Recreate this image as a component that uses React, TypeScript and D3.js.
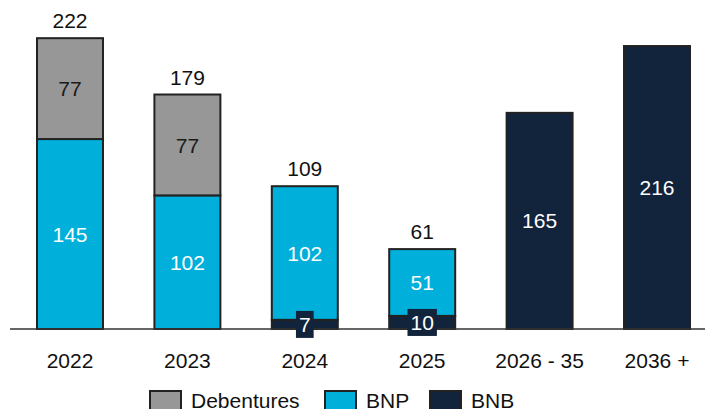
import React from "react";
import * as d3 from "d3";

const categories = ["2022", "2023", "2024", "2025", "2026 - 35", "2036 +"];
const bnb = [0, 0, 7, 10, 165, 216];
const bnp = [145, 102, 102, 51, 0, 0];
const debentures = [77, 77, 0, 0, 0, 0];
const totals = [222, 179, 109, 61, 165, 216];

const seriesKeys = ["BNB", "BNP", "Debentures"];
const legendLabels = ["Debentures", "BNP", "BNB"];

const W = 705;
const H = 409;
const BASE = 329;
const FONT = "'Liberation Sans', Arial, sans-serif";
const colors: Record<string, string> = {
  Debentures: "#979797",
  BNP: "#00B0DA",
  BNB: "#12233C",
};
const labelColor: Record<string, string> = {
  Debentures: "#1a1a1a",
  BNP: "#ffffff",
  BNB: "#ffffff",
};

export default function App() {
  const rows = categories.map((c, i) => ({
    cat: c,
    BNB: bnb[i],
    BNP: bnp[i],
    Debentures: debentures[i],
  }));
  const stack = d3.stack<any>().keys(seriesKeys)(rows);

  const x = d3
    .scaleBand<string>()
    .domain(categories)
    .range([11.3, 11.3 + 6 * 117.4])
    .paddingInner(0.438)
    .paddingOuter(0.219);
  const y = d3.scaleLinear().domain([0, 250]).range([BASE, BASE - 250 * 1.31]);

  const legendX = [150, 325, 430];

  return (
    <svg
      width={W}
      height={H}
      style={{ position: "absolute", left: 0, top: 0, fontFamily: FONT }}
    >
      <rect width={W} height={H} fill="#fff" />
      {stack.map((s) =>
        s.map((d, i) => {
          const v = d[1] - d[0];
          if (v <= 0) return null;
          return (
            <rect
              key={s.key + i}
              x={x(categories[i])}
              y={y(d[1])}
              width={x.bandwidth()}
              height={y(d[0]) - y(d[1])}
              fill={colors[s.key]}
              stroke="#222"
              strokeWidth={2}
            />
          );
        })
      )}
      <line x1={10} x2={W} y1={BASE} y2={BASE} stroke="#333" strokeWidth={1.5} />
      {stack.map((s) =>
        s.map((d, i) => {
          const v = d[1] - d[0];
          if (v <= 0) return null;
          const cx = (x(categories[i]) as number) + x.bandwidth() / 2;
          const cy = (y(d[0]) + y(d[1])) / 2;
          const small = y(d[0]) - y(d[1]) < 20;
          const label = String(v);
          const tw = label.length * 11.7;
          return (
            <g key={"l" + s.key + i}>
              {small && (
                <rect
                  x={cx - tw / 2 - 3}
                  y={cy - 13.5}
                  width={tw + 6}
                  height={27}
                  fill={colors[s.key]}
                />
              )}
              <text
                x={cx}
                y={cy}
                dy="0.36em"
                textAnchor="middle"
                fontSize={21}
                fill={labelColor[s.key]}
              >
                {label}
              </text>
            </g>
          );
        })
      )}
      {categories.map((c, i) => (
        <text
          key={"t" + c}
          x={(x(c) as number) + x.bandwidth() / 2}
          y={y(totals[i]) - 10}
          textAnchor="middle"
          fontSize={21}
          fill="#111"
        >
          {categories[i].startsWith("202") && i < 4 ? totals[i] : ""}
        </text>
      ))}
      {categories.map((c) => (
        <text
          key={"x" + c}
          x={(x(c) as number) + x.bandwidth() / 2}
          y={368}
          textAnchor="middle"
          fontSize={21}
          fill="#111"
        >
          {c}
        </text>
      ))}
      {legendLabels.map((k, i) => (
        <g key={"lg" + k} transform={`translate(${legendX[i]},391)`}>
          <rect width={31} height={22} fill={colors[k]} stroke="#222" strokeWidth={2} />
          <text x={41} y={17} fontSize={21} fill="#111">
            {k}
          </text>
        </g>
      ))}
    </svg>
  );
}
